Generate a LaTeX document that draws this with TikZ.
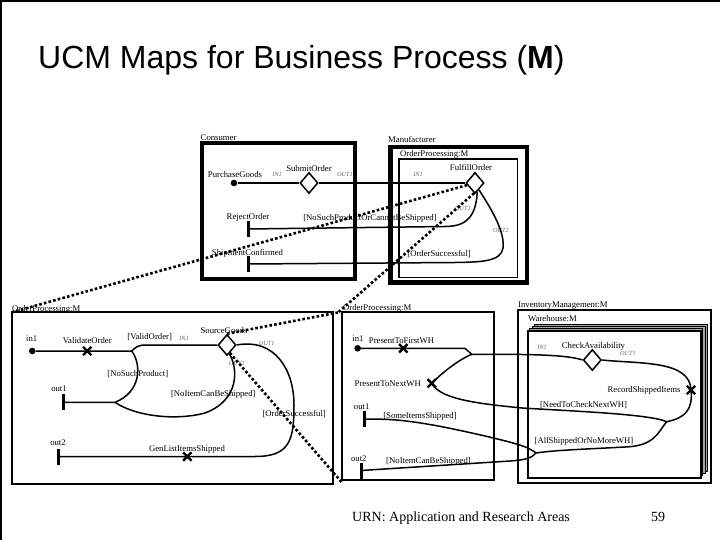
\documentclass[tikz,border=0pt]{standalone}
\usepackage{fontspec}
\setmainfont{Liberation Serif}
\newfontfamily\titlefont{Liberation Sans}
\usetikzlibrary{positioning, shapes.geometric, shapes.misc}

\newcommand{\ucmsize}{\fontsize{8.7}{10}\selectfont}
\newcommand{\portsize}{\fontsize{6.3}{7}\selectfont\itshape}

\begin{document}
\begin{tikzpicture}[x=1pt, y=-1pt, node distance=6pt,
		lbl/.style={font=\ucmsize, inner sep=0pt, anchor=base},
		comp/.style={font=\ucmsize, inner sep=0pt, anchor=base west},
		port/.style={font=\portsize, text=gray!80!black, inner sep=0pt, anchor=base},
		startpt/.style={circle, fill, inner sep=0pt, minimum size=6.6pt},
		stub/.style={diamond, draw, line width=1.5pt, fill=white, inner sep=0pt, minimum width=18pt, minimum height=21pt},
		resp/.style={cross out, draw, line width=2.4pt, inner sep=0pt, minimum size=6pt},
		endbar/.style={fill, inner sep=0pt, minimum width=3pt, minimum height=16pt},
		ucm/.style={line width=1.5pt},
		zoomline/.style={line width=2.6pt, dash pattern=on 2.6pt off 2.2pt}]
		\useasboundingbox (0,0) rectangle (720,540);
		\draw[line width=4pt] (0,540) -- (0,0) -- (720,0);
		\node[anchor=base west, inner sep=0pt, font=\titlefont\fontsize{32}{36}\selectfont] (title) at (38,68.5) {UCM Maps for Business Process (\textbf{M})};
		\node[anchor=base west, inner sep=0pt, font=\fontsize{14}{16}\selectfont] (foot) at (352,521) {URN: Application and Research Areas};
		\node[anchor=base west, inner sep=0pt, font=\fontsize{14}{16}\selectfont] (pgno) at (651,521) {59};
		
		% top map
		\draw[line width=4.5pt] (202,143) rectangle (355,279);
		\draw[line width=4.5pt] (390.5,147) rectangle (527,282.5);
		\draw[line width=1.8pt] (399,159) rectangle (517.5,277.5);
		\node[comp] at (200.5,140.5) {Consumer};
		\node[comp] at (388,143) {Manufacturer};
		\node[comp] at (400,156.5) {OrderProcessing:M};
		\node[startpt]                   (pg)   at (234,183) {};
		\node[stub]                      (so)   at (309,183) {};
		\node[stub]                      (fo)   at (475,183) {};
		\node[endbar]                    (rej)  at (248,229) {};
		\node[endbar]                    (shp)  at (248,264) {};
		\node[lbl] at (235,178) {PurchaseGoods};
		\node[lbl] at (309,171.5) {SubmitOrder};
		\node[lbl] at (471,171) {FulfillOrder};
		\node[port] at (277,177) {IN1};
		\node[port] at (345,177) {OUT1};
		\node[port] at (418,177) {IN1};
		\node[port] at (463,211) {OUT1};
		\node[port] at (501,233) {OUT2};
		\node[lbl] at (248,219) {RejectOrder};
		\node[lbl] at (247.5,255) {ShipmentConfirmed};
		\node[lbl] at (370,221) {[NoSuchProductOrCannotBeShipped]};
		\node[lbl] at (439,256) {[OrderSuccessful]};
		\draw[ucm] (pg) -- (so) -- (fo);
		\draw[ucm] (fo.-75) .. controls (476,215) and (468,226.5) .. (445,226.5) -- (rej);
		\draw[ucm] (fo.-60) .. controls (492,210) and (505,232) .. (503,248) .. controls (501,262) and (480,262) .. (455,262.5) -- (shp);
		
		% plug-in of FulfillOrder
		\draw[line width=1.8pt] (11.7,312.3) rectangle (333.3,484.3);
		\node[comp] at (12,311) {OrderProcessing:M};
		\node[startpt]                   (in1a) at (32.3,351) {};
		\node[resp]                      (vo)   at (87.3,351) {};
		\node[stub]                      (sg)   at (227,345) {};
		\node[endbar]                    (o1a)  at (63.3,402.3) {};
		\node[endbar]                    (o2a)  at (58.3,456.5) {};
		\node[resp]                      (gl)   at (187.3,456.6) {};
		\coordinate (f1) at (131.7,351);
		\coordinate (j1) at (115,402.3);
		\node[lbl] at (31.7,341) {in1};
		\node[lbl, above=3pt of vo] {ValidateOrder};
		\node[lbl] at (224,333) {SourceGoods};
		\node[lbl] at (59,391.5) {out1};
		\node[lbl] at (58,445) {out2};
		\node[lbl] at (187,451.5) {GenListItemsShipped};
		\node[lbl] at (149.7,339) {[ValidOrder]};
		\node[port] at (184,340) {IN1};
		\node[port] at (266.7,345) {OUT1};
		\node[port] at (236.7,365) {OUT2};
		\node[lbl] at (137.8,376) {[NoSuchProduct]};
		\node[lbl] at (213.3,396) {[NoItemCanBeShipped]};
		\node[lbl] at (294.2,416) {[OrderSuccessful]};
		\draw[ucm] (in1a) -- (vo.center) -- (f1) .. controls (136,347) and (138,345) .. (146,345) -- (sg.west);
		\draw[ucm] (f1) .. controls (142,365) and (141,392) .. (j1) -- (o1a);
		\draw[ucm] (sg.-75) .. controls (238,368) and (240,400) .. (205,413) .. controls (175,421) and (135,416) .. (j1);
		\draw[ucm] (sg.east) .. controls (275,338) and (294,370) .. (294,405) .. controls (294,440) and (290,456.5) .. (255,456.5) -- (gl.center) -- (o2a);
		
		% plug-in of SourceGoods
		\draw[line width=1.8pt] (342.3,312.3) rectangle (494.3,480);
		\node[comp] at (343,310.5) {OrderProcessing:M};
		\draw[line width=1.8pt] (518.3,310) rectangle (711,483.3);
		\node[comp] at (518,307) {InventoryManagement:M};
		\node[comp] at (528,321.5) {Warehouse:M};
		\foreach \k in {3,2,1}
			\draw[line width=1pt, fill=gray!70] (527.7+2.2*\k,331-2.2*\k) rectangle (700.7+2.2*\k,477.7-2.2*\k);
		\draw[line width=1.8pt, fill=white] (527.7,331) rectangle (700.7,477.7);
		\node[startpt]                   (in1b) at (357.7,348.3) {};
		\node[resp]                      (ptf)  at (403.3,348.3) {};
		\node[resp]                      (ptn)  at (431.7,383.3) {};
		\node[endbar]                    (o1b)  at (364.3,419.2) {};
		\node[endbar]                    (o2b)  at (361,470.5) {};
		\node[stub]                      (ca)   at (592.3,360) {};
		\node[resp]                      (rsi)  at (691,390) {};
		\coordinate (f2) at (471.7,354.3);
		\coordinate (f3) at (666.7,421.7);
		\coordinate (f4) at (536,453);
		\node[lbl] at (358,341) {in1};
		\node[lbl] at (401.5,343) {PresentToFirstWH};
		\node[lbl, left=6.5pt of ptn] {PresentToNextWH};
		\node[lbl] at (361.7,409) {out1};
		\node[lbl] at (358.8,461.5) {out2};
		\node[lbl] at (420,418) {[SomeItemsShipped]};
		\node[lbl] at (428.5,463) {[NoItemCanBeShipped]};
		\node[lbl] at (593.5,348) {CheckAvailability};
		\node[port] at (542,349) {IN1};
		\node[port] at (628,355) {OUT1};
		\node[lbl, left=of rsi] {RecordShippedItems};
		\node[lbl] at (583.5,407) {[NeedToCheckNextWH]};
		\node[lbl] at (584,443.5) {[AllShippedOrNoMoreWH]};
		\draw[ucm] (in1b) -- (ptf.center) -- (465,348.3) -- (f2) .. controls (520,354.3) and (565,354) .. (ca.west);
		\draw[ucm] (ptn.center) .. controls (442,373) and (458,360) .. (f2);
		\draw[ucm] (ca.east) .. controls (640,364) and (690,360) .. (rsi.center) .. controls (693,410) and (685,418) .. (f3);
		\draw[ucm] (f3) .. controls (650,414) and (570,411) .. (522,408) .. controls (470,403) and (440,398) .. (ptn.center);
		\draw[ucm] (f3) .. controls (658,432) and (655,446) .. (625,447) .. controls (590,449) and (555,450) .. (f4);
		\draw[ucm] (o1b) -- (378,419.2) .. controls (410,419.2) and (450,428) .. (485,436) .. controls (510,442) and (528,446) .. (f4);
		\draw[ucm] (f4) .. controls (532,458) and (525,460) .. (510,461) -- (o2b);
		
		% zoom lines
		\coordinate (bltl)  at (11.7,312.3);
		\coordinate (midtl) at (338,312.5);
		\coordinate (midbl) at (341.5,482);
		\draw[zoomline] (fo.-165) -- (bltl);
		\draw[zoomline] (fo.-95) -- (midtl);
		\draw[zoomline] (sg.north) -- (midtl);
		\draw[zoomline] (sg.-70) -- (midbl);
	\end{tikzpicture}
\end{document}
